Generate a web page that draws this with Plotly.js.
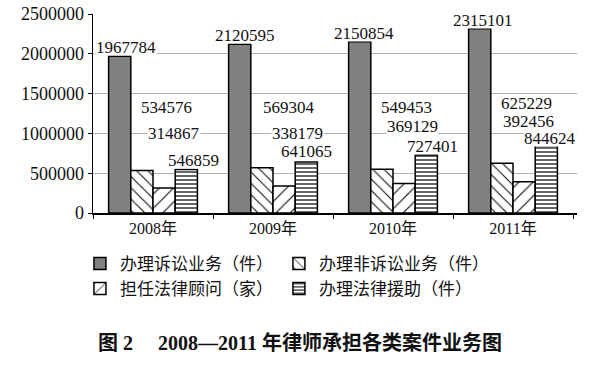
<!DOCTYPE html>
<html><head><meta charset="utf-8">
<script src="https://cdn.plot.ly/plotly-3.0.1.min.js"></script>
<style>body{margin:0;background:#fff}</style></head>
<body><div id="chart" style="width:600px;height:367px"></div>
<script>
const years = ['2008年', '2009年', '2010年', '2011年'];
const litigation = [1967784, 2120595, 2150854, 2315101];
const nonLitigation = [534576, 569304, 549453, 625229];
const counsel = [314867, 338179, 369129, 392456];
const legalAid = [546859, 641065, 727401, 844624];
const seriesNames = ['办理诉讼业务（件）', '办理非诉讼业务（件）', '担任法律顾问（家）', '办理法律援助（件）'];
const yTicks = [0, 500000, 1000000, 1500000, 2000000, 2500000];

const serif = '"Liberation Serif", "Times New Roman", "Noto Sans CJK SC", serif';
const cjk = '"Liberation Serif", "Noto Sans CJK SC", serif';

const seriesValues = [litigation, nonLitigation, counsel, legalAid];
const styles = [
  {color: '#808080', pattern: {shape: ''}},
  {color: '#ffffff', pattern: {shape: '\\', fgcolor: '#000', bgcolor: '#fff', size: 8, solidity: 0.12, fillmode: 'replace'}},
  {color: '#ffffff', pattern: {shape: '/', fgcolor: '#000', bgcolor: '#fff', size: 10, solidity: 0.1, fillmode: 'replace'}},
  {color: '#ffffff', pattern: {shape: '-', fgcolor: '#000', bgcolor: '#fff', size: 4, solidity: 0.3, fillmode: 'replace'}}
];

const traces = seriesValues.map((vals, i) => ({
  type: 'bar', x: years, y: vals, name: seriesNames[i],
  marker: {color: styles[i].color, pattern: styles[i].pattern, line: {color: '#000', width: 1.5}},
  hoverinfo: 'none'
}));

// label placement (layout only): x shift in px per series per year, y level for non-top labels
const labelShift = [
  [-27, 13, 21, 40],
  [-28, 16, 24, 33],
  [-29, 13, 19, 39],
  [-30, 13, 15, 37]
];
const labelLevel = [
  [null, 1331700, 1000000, 665800],
  [null, 1331700, 1000000, 778000],
  [null, 1331700, 1093000, 841700],
  [null, 1370000, 1150000, 930000]
];
const annotations = [];
years.forEach((yr, j) => {
  seriesValues.forEach((vals, i) => {
    const top = i === 0;
    annotations.push({
      x: yr, xref: 'x', yref: 'y',
      y: top ? vals[j] : labelLevel[j][i],
      yanchor: top ? 'bottom' : 'middle',
      xshift: labelShift[j][i],
      text: String(vals[j]), showarrow: false,
      font: {family: serif, size: 17, color: '#111'},
      height: 15,
      bgcolor: 'rgba(255,255,255,1)', borderpad: 0
    });
  });
});

const layout = {
  width: 600, height: 367,
  margin: {l: 93, r: 23, t: 14, b: 154},
  paper_bgcolor: '#fff', plot_bgcolor: '#fff',
  barmode: 'group', bargap: 0.26, bargroupgap: 0,
  showlegend: true,
  title: {
    text: '<b>图 2　 2008—2011 年律师承担各类案件业务图</b>',
    font: {family: cjk, size: 20, color: '#111'},
    x: 0.5, xref: 'container', y: 1 - 343/367, yref: 'container', yanchor: 'middle'
  },
  xaxis: {
    type: 'category', showgrid: false, showline: true, linecolor: '#000', linewidth: 1.5,
    ticks: 'outside', tickson: 'boundaries', ticklen: 4, tickcolor: '#000',
    tickfont: {family: cjk, size: 16, color: '#111'}
  },
  yaxis: {
    range: [0, 2500000], tickvals: yTicks, ticktext: yTicks.map(String),
    showgrid: true, gridcolor: '#b0b0b0', gridwidth: 1,
    showline: true, linecolor: '#000', linewidth: 1.5,
    ticks: 'outside', ticklen: 4, tickcolor: '#000',
    zeroline: false,
    tickfont: {family: serif, size: 18, color: '#111'}
  },
  legend: {
    orientation: 'h', x: -0.027, xanchor: 'left', y: -0.165, yanchor: 'top',
    entrywidth: 154, traceorder: 'normal',
    font: {family: cjk, size: 17, color: '#111'}
  },
  annotations: annotations
};

Plotly.newPlot('chart', traces, layout, {staticPlot: true, displayModeBar: false});
</script></body></html>
